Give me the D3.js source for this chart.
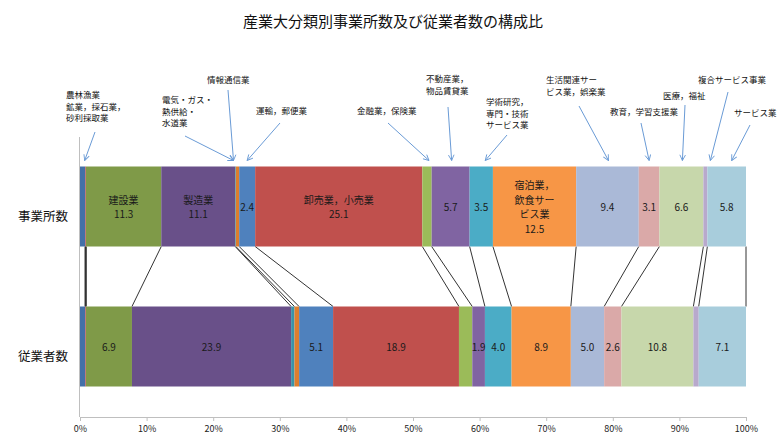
<!DOCTYPE html>
<html>
<head>
<meta charset="utf-8">
<script src="https://cdn.jsdelivr.net/npm/d3@7"></script>
<style>
body { margin: 0; background: #fff; }
text { font-family: "Noto Sans CJK JP", sans-serif; }
</style>
</head>
<body>
<div class="card"></div>
<script>
/* global d3*/

var industries = ["農林漁業", "鉱業，採石業，砂利採取業", "建設業", "製造業", "電気・ガス・熱供給・水道業",
    "情報通信業", "運輸業，郵便業", "卸売業，小売業", "金融業，保険業", "不動産業，物品賃貸業",
    "学術研究，専門・技術サービス業", "宿泊業，飲食サービス業", "生活関連サービス業，娯楽業",
    "教育，学習支援業", "医療，福祉", "複合サービス事業", "サービス業"];
var estShares = [0.8, 0.1, 11.3, 11.1, 0.1, 0.5, 2.4, 25.1, 1.4, 5.7, 3.5, 12.5, 9.4, 3.1, 6.6, 0.6, 5.8];
var empShares = [0.8, 0.1, 6.9, 23.9, 0.5, 0.7, 5.1, 18.9, 2.0, 1.9, 4.0, 8.9, 5.0, 2.6, 10.8, 0.8, 7.1];
var rowNames = ["事業所数", "従業者数"];
var tickValues = [0, 10, 20, 30, 40, 50, 60, 70, 80, 90, 100];
var unlabelled = [0, 1, 4, 5, 8, 15];
var inBarNames = {2: ["建設業"], 3: ["製造業"], 7: ["卸売業，小売業"], 11: ["宿泊業，", "飲食サー", "ビス業"]};

var colors = ["#4470a8", "#c0504d", "#7f9a48", "#695089", "#3a93a8", "#dd7e2e", "#4f81bd", "#c0504d",
    "#9bbb59", "#8064a2", "#4bacc6", "#f79646", "#aab9d7", "#daa9a8", "#c7d7ab", "#b8a9cc", "#a8cddc"];

// callout labels above the top bar (layout only)
var callouts = [
    {i: 0, lines: ["農林漁業", "鉱業，採石業，", "砂利採取業"], lx: 66, ly: 94, sx: 95, sy: 132, dx: 2},
    {i: 4, lines: ["電気・ガス・", "熱供給・", "水道業"], lx: 162, ly: 99, sx: 185, sy: 136, dx: -2},
    {i: 5, lines: ["情報通信業"], lx: 207, ly: 79, sx: 228, sy: 90, dx: -4},
    {i: 6, lines: ["運輸，郵便業"], lx: 256, ly: 110, sx: 280, sy: 123, dx: 0},
    {i: 8, lines: ["金融業，保険業"], lx: 357, ly: 110, sx: 388, sy: 123, dx: 2},
    {i: 9, lines: ["不動産業，", "物品賃貸業"], lx: 426, ly: 78, sx: 448, sy: 107, dx: 1},
    {i: 10, lines: ["学術研究，", "専門・技術", "サービス業"], lx: 486, ly: 101, sx: 507, sy: 135, dx: 4},
    {i: 12, lines: ["生活関連サー", "ビス業，娯楽業"], lx: 546, ly: 79, sx: 579, sy: 106, dx: 1},
    {i: 13, lines: ["教育，学習支援業"], lx: 610, ly: 111, sx: 641, sy: 123, dx: 0},
    {i: 14, lines: ["医療，福祉"], lx: 663, ly: 95, sx: 685, sy: 105, dx: 1},
    {i: 15, lines: ["複合サービス事業"], lx: 698, ly: 79, sx: 728, sy: 92, dx: 5},
    {i: 16, lines: ["サービス業"], lx: 734, ly: 112, sx: 750, sy: 125, dx: 5}
];

var width = 778,
    height = 439;

var svg = d3.select(".card").append("svg")
    .attr("width", width)
    .attr("height", height);

var x = d3.scaleLinear().domain([0, 100]).range([80, 746]);
var y = d3.scaleBand().domain(rowNames).range([136.5, 416.5])
    .paddingInner(60 / 140).paddingOuter(30 / 140);
var bh = y.bandwidth();

// cumulative start/end for each row
var rows = [estShares, empShares].map(function(vals, r) {
    var ends = Array.from(d3.cumsum(vals));
    return vals.map(function(v, i) {
        return {row: rowNames[r], r: r, i: i, v: v, x0: ends[i] - v, x1: ends[i]};
    });
});

// title
svg.append("text")
    .attr("x", 393).attr("y", 20)
    .attr("text-anchor", "middle").attr("dominant-baseline", "central")
    .style("font-size", "15px").style("fill", "#111")
    .text("産業大分類別事業所数及び従業者数の構成比");

// series lines between the two bars
svg.append("g").selectAll("line").data(rows[0]).enter().append("line")
    .attr("x1", function(d) { return x(d.x1); })
    .attr("y1", y(rowNames[0]) + bh)
    .attr("x2", function(d) { return x(rows[1][d.i].x1); })
    .attr("y2", y(rowNames[1]))
    .attr("stroke", "#333")
    .attr("stroke-width", function(d) { return d.x1 === rows[1][d.i].x1 ? 1.6 : 1; });

// bars
var segs = svg.append("g").selectAll("g.row").data(rows).enter().append("g").attr("class", "row");
segs.selectAll("rect").data(function(d) { return d; }).enter().append("rect")
    .attr("x", function(d) { return x(d.x0); })
    .attr("y", function(d) { return y(d.row); })
    .attr("width", function(d) { return x(d.x1) - x(d.x0); })
    .attr("height", bh)
    .attr("fill", function(d) { return colors[d.i]; });

// labels inside the bars, one text per line
var lineGap = 14.5;
var barLines = [];
rows[0].concat(rows[1]).forEach(function(d) {
    if (unlabelled.indexOf(d.i) >= 0) return;
    var lines = (d.r === 0 && inBarNames[d.i] ? inBarNames[d.i] : []).concat([d.v.toFixed(1)]);
    var cx = (x(d.x0) + x(d.x1)) / 2,
        cy = y(d.row) + bh / 2 - (lines.length - 1) * lineGap / 2;
    lines.forEach(function(t, k) {
        barLines.push({t: t, x: cx, y: cy + k * lineGap});
    });
});
svg.append("g").selectAll("text").data(barLines).enter().append("text")
    .attr("x", function(d) { return d.x; })
    .attr("y", function(d) { return d.y; })
    .attr("text-anchor", "middle").attr("dominant-baseline", "central")
    .style("font-size", "10px").style("fill", "#1a1a1a")
    .text(function(d) { return d.t; });

// row names
svg.append("g").selectAll("text").data(rowNames).enter().append("text")
    .attr("x", 43)
    .attr("y", function(d) { return y(d) + bh / 2 + 9; })
    .attr("text-anchor", "middle").attr("dominant-baseline", "central")
    .style("font-size", "12.5px").style("fill", "#111")
    .text(function(d) { return d; });

// axes
svg.append("line")
    .attr("x1", 79.5).attr("x2", 79.5).attr("y1", 137).attr("y2", 417)
    .attr("stroke", "#bfbfbf");

var xAxis = svg.append("g")
    .attr("transform", "translate(0,417)")
    .call(d3.axisBottom(x).tickValues(tickValues).tickSize(4).tickSizeOuter(0)
        .tickFormat(function(d) { return d + "%"; }));
xAxis.select(".domain").attr("stroke", "#bfbfbf");
xAxis.selectAll(".tick line").attr("stroke", "#bfbfbf");
xAxis.selectAll(".tick text")
    .attr("y", 9)
    .style("font-family", "'Noto Sans CJK JP', sans-serif")
    .style("font-size", "9px").style("fill", "#222");

// callouts with arrows
var arrowColor = "#6a9bd6";
svg.append("defs").append("marker")
    .attr("id", "arr")
    .attr("viewBox", "0 -5 10 10")
    .attr("refX", 9).attr("refY", 0)
    .attr("markerWidth", 7).attr("markerHeight", 7)
    .attr("orient", "auto")
    .append("path")
    .attr("d", "M1,-4L9,0L1,4")
    .attr("fill", "none")
    .attr("stroke", arrowColor)
    .attr("stroke-width", 1.3);

svg.append("g").selectAll("line").data(callouts).enter().append("line")
    .attr("x1", function(d) { return d.sx; })
    .attr("y1", function(d) { return d.sy; })
    .attr("x2", function(d) {
        var s = rows[0][d.i];
        return x((s.x0 + s.x1) / 2) + d.dx;
    })
    .attr("y2", y(rowNames[0]) - 6)
    .attr("stroke", arrowColor)
    .attr("stroke-width", 1)
    .attr("marker-end", "url(#arr)");

var calloutLines = [];
callouts.forEach(function(d) {
    d.lines.forEach(function(t, k) {
        calloutLines.push({t: t, x: d.lx, y: d.ly + k * 11.7});
    });
});
svg.append("g").selectAll("text").data(calloutLines).enter().append("text")
    .attr("x", function(d) { return d.x; })
    .attr("y", function(d) { return d.y; })
    .attr("dominant-baseline", "central")
    .style("font-size", "8.5px").style("fill", "#111")
    .text(function(d) { return d.t; });
</script>
</body>
</html>
